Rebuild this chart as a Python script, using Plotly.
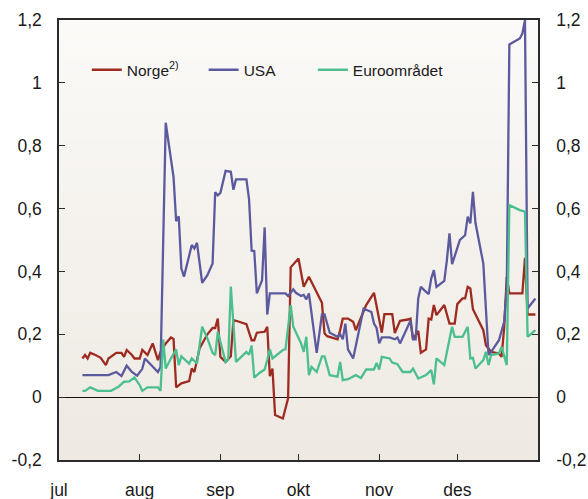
import plotly.graph_objects as go

# ---------------- data ----------------
usa_dates = ["2007-07-10","2007-07-20","2007-07-23","2007-07-25","2007-07-27","2007-07-29","2007-07-31",
    "2007-08-02","2007-08-03","2007-08-06","2007-08-08","2007-08-09","2007-08-10","2007-08-11","2007-08-14",
    "2007-08-15","2007-08-16","2007-08-17","2007-08-18","2007-08-20","2007-08-21","2007-08-22","2007-08-23",
    "2007-08-25","2007-08-27","2007-08-29","2007-08-30","2007-08-31","2007-09-01","2007-09-03","2007-09-05",
    "2007-09-06","2007-09-07","2007-09-11","2007-09-12","2007-09-13","2007-09-14","2007-09-15","2007-09-17",
    "2007-09-18","2007-09-19","2007-09-20","2007-09-26","2007-09-27","2007-09-29","2007-09-30","2007-10-02",
    "2007-10-03","2007-10-04","2007-10-05","2007-10-08","2007-10-10","2007-10-11","2007-10-13","2007-10-16",
    "2007-10-17","2007-10-18","2007-10-19","2007-10-20","2007-10-22","2007-10-26","2007-10-29","2007-10-30",
    "2007-10-31","2007-11-01","2007-11-02","2007-11-05","2007-11-07","2007-11-08","2007-11-09","2007-11-13",
    "2007-11-14","2007-11-15","2007-11-16","2007-11-17","2007-11-19","2007-11-20","2007-11-21","2007-11-22",
    "2007-11-23","2007-11-26","2007-11-27","2007-11-28","2007-11-29","2007-12-01","2007-12-02","2007-12-04",
    "2007-12-05","2007-12-06","2007-12-07","2007-12-08","2007-12-11","2007-12-13","2007-12-14","2007-12-17",
    "2007-12-19","2007-12-20","2007-12-21","2007-12-25","2007-12-26","2007-12-27","2007-12-28","2007-12-31"]
usa_values = [0.07,0.07,0.08,0.067,0.10,0.08,0.068,
    0.09,0.123,0.096,0.08,0.096,0.52,0.873,0.70,
    0.56,0.575,0.41,0.383,0.446,0.484,0.473,0.491,
    0.364,0.388,0.425,0.652,0.642,0.65,0.72,0.717,
    0.66,0.693,0.693,0.63,0.466,0.465,0.33,0.372,
    0.54,0.263,0.33,0.33,0.322,0.343,0.332,0.322,
    0.325,0.311,0.33,0.141,0.263,0.263,0.205,0.192,
    0.2,0.184,0.234,0.152,0.123,0.282,0.271,0.234,
    0.22,0.171,0.19,0.19,0.184,0.19,0.171,0.243,
    0.184,0.184,0.314,0.351,0.335,0.328,0.378,0.404,
    0.351,0.37,0.436,0.521,0.423,0.473,0.5,0.515,
    0.574,0.553,0.653,0.553,0.425,0.134,0.144,0.181,
    0.24,0.346,1.122,1.141,1.157,1.2,0.282,0.314]

norge_dates = ["2007-07-10","2007-07-11","2007-07-12","2007-07-13","2007-07-15","2007-07-17","2007-07-19",
    "2007-07-20","2007-07-23","2007-07-25","2007-07-26","2007-07-27","2007-07-29","2007-07-30","2007-08-01",
    "2007-08-02","2007-08-04","2007-08-06","2007-08-08","2007-08-09","2007-08-11","2007-08-13","2007-08-14",
    "2007-08-15","2007-08-17","2007-08-20","2007-08-21","2007-08-22","2007-08-24","2007-08-27","2007-08-29",
    "2007-08-30","2007-08-31","2007-09-01","2007-09-03","2007-09-05","2007-09-06","2007-09-07","2007-09-11",
    "2007-09-13","2007-09-14","2007-09-15","2007-09-18","2007-09-19","2007-09-20","2007-09-21","2007-09-22",
    "2007-09-24","2007-09-25","2007-09-27","2007-09-28","2007-10-01","2007-10-03","2007-10-04","2007-10-05",
    "2007-10-10","2007-10-11","2007-10-12","2007-10-16","2007-10-17","2007-10-18","2007-10-20","2007-10-22",
    "2007-10-23","2007-10-27","2007-10-30","2007-11-02","2007-11-03","2007-11-06","2007-11-07","2007-11-09",
    "2007-11-12","2007-11-13","2007-11-14","2007-11-16","2007-11-17","2007-11-19","2007-11-20","2007-11-21",
    "2007-11-22","2007-11-23","2007-11-26","2007-11-28","2007-11-30","2007-12-01","2007-12-03","2007-12-04",
    "2007-12-05","2007-12-06","2007-12-07","2007-12-11","2007-12-12","2007-12-13","2007-12-14","2007-12-17",
    "2007-12-18","2007-12-19","2007-12-20","2007-12-21","2007-12-26","2007-12-27","2007-12-28","2007-12-31"]
norge_values = [0.123,0.134,0.123,0.141,0.134,0.125,0.102,
    0.123,0.141,0.141,0.128,0.15,0.134,0.123,0.123,
    0.15,0.134,0.171,0.118,0.144,0.171,0.19,0.185,
    0.031,0.044,0.051,0.091,0.08,0.155,0.2,0.22,
    0.22,0.25,0.128,0.112,0.13,0.245,0.243,0.232,
    0.181,0.181,0.205,0.208,0.224,0.067,0.091,-0.057,
    -0.066,-0.068,-0.004,0.413,0.441,0.351,0.367,0.383,
    0.30,0.203,0.194,0.184,0.213,0.25,0.25,0.24,
    0.213,0.293,0.332,0.205,0.264,0.264,0.204,0.243,
    0.247,0.25,0.184,0.211,0.141,0.152,0.25,0.247,
    0.293,0.261,0.293,0.234,0.234,0.296,0.314,0.314,
    0.351,0.346,0.28,0.213,0.165,0.155,0.144,0.139,
    0.128,0.22,0.383,0.33,0.33,0.443,0.263,0.263]

euro_dates = ["2007-07-10","2007-07-11","2007-07-13","2007-07-16","2007-07-21","2007-07-23","2007-07-24",
    "2007-07-26","2007-07-28","2007-07-30","2007-08-01","2007-08-02","2007-08-04","2007-08-08","2007-08-09",
    "2007-08-10","2007-08-11","2007-08-13","2007-08-15","2007-08-16","2007-08-17","2007-08-20","2007-08-21",
    "2007-08-23","2007-08-25","2007-08-27","2007-08-29","2007-08-30","2007-08-31","2007-09-03","2007-09-04",
    "2007-09-05","2007-09-07","2007-09-11","2007-09-12","2007-09-13","2007-09-14","2007-09-16","2007-09-18",
    "2007-09-19","2007-09-20","2007-09-21","2007-09-25","2007-09-26","2007-09-28","2007-09-29","2007-10-02",
    "2007-10-03","2007-10-04","2007-10-05","2007-10-06","2007-10-08","2007-10-10","2007-10-11","2007-10-13",
    "2007-10-16","2007-10-17","2007-10-18","2007-10-20","2007-10-23","2007-10-25","2007-10-27","2007-10-30",
    "2007-10-31","2007-11-01","2007-11-02","2007-11-05","2007-11-06","2007-11-08","2007-11-10","2007-11-13",
    "2007-11-14","2007-11-16","2007-11-19","2007-11-21","2007-11-22","2007-11-23","2007-11-26","2007-11-29",
    "2007-11-30","2007-12-03","2007-12-05","2007-12-06","2007-12-07","2007-12-08","2007-12-11","2007-12-12",
    "2007-12-13","2007-12-14","2007-12-17","2007-12-18","2007-12-20","2007-12-21","2007-12-25","2007-12-27",
    "2007-12-28","2007-12-31"]
euro_values = [0.02,0.02,0.031,0.02,0.02,0.031,0.034,
    0.049,0.05,0.063,0.038,0.02,0.031,0.031,0.02,
    0.184,0.091,0.123,0.152,0.102,0.13,0.107,0.123,
    0.107,0.224,0.187,0.141,0.134,0.208,0.112,0.12,
    0.352,0.112,0.144,0.135,0.164,0.062,0.077,0.088,
    0.118,0.152,0.123,0.15,0.152,0.293,0.224,0.171,
    0.144,0.192,0.07,0.096,0.08,0.13,0.13,0.07,
    0.065,0.112,0.054,0.057,0.07,0.061,0.088,0.088,
    0.109,0.088,0.128,0.123,0.11,0.105,0.08,0.08,
    0.091,0.059,0.07,0.086,0.041,0.123,0.102,0.224,
    0.192,0.192,0.224,0.123,0.125,0.091,0.118,0.144,
    0.102,0.134,0.139,0.16,0.102,0.611,0.595,0.59,
    0.192,0.213]

month_ticks = ["2007-07-01","2007-08-01","2007-09-01","2007-10-01","2007-11-01","2007-12-01"]
month_labels = ["jul","aug","sep","okt","nov","des"]
y_ticks = [-0.2, 0, 0.2, 0.4, 0.6, 0.8, 1.0, 1.2]
y_labels = ["-0,2", "0", "0,2", "0,4", "0,6", "0,8", "1", "1,2"]

# ---------------- figure ----------------
RED = "#9E2B20"
PURPLE = "#5C5A9E"
GREEN = "#4CBF8E"
FONT = "Liberation Sans, Arial, sans-serif"
Y_RANGE = [-0.2, 1.2]

fig = go.Figure()
fig.add_trace(go.Scatter(x=norge_dates, y=norge_values, mode="lines", name="Norge<sup>2)</sup>",
                         line=dict(color=RED, width=2.3), legend="legend"))
fig.add_trace(go.Scatter(x=usa_dates, y=usa_values, mode="lines", name="USA",
                         line=dict(color=PURPLE, width=2.3), legend="legend2"))
fig.add_trace(go.Scatter(x=euro_dates, y=euro_values, mode="lines", name="Euroområdet",
                         line=dict(color=GREEN, width=2.3), yaxis="y2", legend="legend3"))

# vertical gradient background of the plot area
N = 44
top = (251, 250, 248)
bot = (238, 233, 226)
shapes = []
for i in range(N):
    t = i / (N - 1)
    c = tuple(round(bot[k] + (top[k] - bot[k]) * t) for k in range(3))
    shapes.append(dict(type="rect", xref="paper", yref="paper",
                       x0=0, x1=1, y0=i / N, y1=(i + 1) / N + 0.002,
                       fillcolor="rgb(%d,%d,%d)" % c, line=dict(width=0), layer="below"))

axis_line = "#2b2b2b"
tick_font = dict(size=17.5, family=FONT, color="#1a1a1a")
leg_common = dict(orientation="h", y=0.886, xanchor="left", yanchor="middle",
                  bgcolor="rgba(0,0,0,0)", font=dict(size=15.5, family=FONT, color="#1a1a1a"),
                  itemwidth=30)
fig.update_layout(
    width=588, height=499,
    margin=dict(l=59, r=50, t=20, b=39),
    paper_bgcolor="white",
    plot_bgcolor="rgba(0,0,0,0)",
    font=dict(family=FONT, size=16, color="#1a1a1a"),
    shapes=shapes,
    showlegend=True,
    legend=dict(x=0.058, **leg_common),
    legend2=dict(x=0.302, **leg_common),
    legend3=dict(x=0.530, **leg_common),
    xaxis=dict(type="date", range=["2007-07-01", "2008-01-01"],
               tickvals=month_ticks, ticktext=month_labels,
               ticks="inside", ticklen=6, tickcolor=axis_line, tickwidth=1,
               showline=True, linecolor=axis_line, linewidth=1.5, mirror=True,
               showgrid=False, zeroline=False, ticklabelstandoff=13,
               tickfont=tick_font, automargin=False),
    yaxis=dict(range=Y_RANGE, tickvals=y_ticks, ticktext=y_labels,
               ticks="inside", ticklen=6, tickcolor=axis_line, tickwidth=1,
               showline=True, linecolor=axis_line, linewidth=1.5,
               showgrid=False, zeroline=True, zerolinecolor="#111111", zerolinewidth=1.2,
               ticklabelstandoff=12, tickfont=tick_font, automargin=False),
    yaxis2=dict(range=Y_RANGE, tickvals=y_ticks, ticktext=y_labels, overlaying="y", side="right",
                ticks="inside", ticklen=6, tickcolor=axis_line, tickwidth=1,
                showline=True, linecolor=axis_line, linewidth=1.5,
                showgrid=False, zeroline=False, ticklabelstandoff=13, tickfont=tick_font,
                automargin=False),
)

fig.write_html("out.html", config={"displayModeBar": False},
               post_script="document.body.style.margin='0';document.body.style.overflow='hidden';")
